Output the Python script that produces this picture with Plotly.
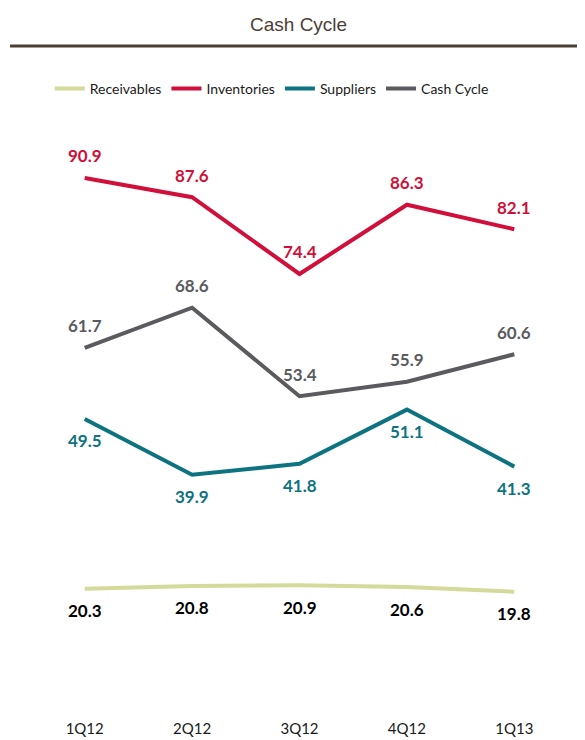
import plotly.graph_objects as go

quarters = ["1Q12", "2Q12", "3Q12", "4Q12", "1Q13"]
receivables = [20.3, 20.8, 20.9, 20.6, 19.8]
inventories = [90.9, 87.6, 74.4, 86.3, 82.1]
suppliers = [49.5, 39.9, 41.8, 51.1, 41.3]
cash_cycle = [61.7, 68.6, 53.4, 55.9, 60.6]

# name, values, line colour, label colour, label side (+1 above / -1 below)
series = [
    ("Receivables", receivables, "#D4DA9A", "#000000", -1),
    ("Inventories", inventories, "#D0103A", "#D0103A", 1),
    ("Suppliers", suppliers, "#0E7380", "#0E7380", -1),
    ("Cash Cycle", cash_cycle, "#5A5A5F", "#5A5A5F", 1),
]

# the page body has an 8px margin, so the figure is drawn 8px in from the corner
OFF = 8
FW, FH = 585 - OFF, 740 - OFF
# plot area in window pixels: x 31..568.5, y 125..707
L, W, T, H = 31 - OFF, 537.5, 125 - OFF, 582

def px_x(p):
    return (p - OFF - L) / W

def px_y(p):
    return (T + H - (p - OFF)) / H

fig = go.Figure()
annotations = []
for name, vals, col, lab_col, side in series:
    fig.add_trace(go.Scatter(
        x=quarters, y=vals, mode="lines", name=name,
        line=dict(color=col, width=4),
        hoverinfo="skip",
    ))
    for q, v in zip(quarters, vals):
        annotations.append(dict(
            x=q, y=v, xref="x", yref="y", text=f"{v:.1f}",
            showarrow=False, yshift=22 * side,
            font=dict(family="Lato", size=17, color=lab_col, weight="bold"),
        ))

annotations.append(dict(
    x=px_x(299), y=px_y(25), xref="paper", yref="paper", text="Cash Cycle",
    showarrow=False, yanchor="middle",
    font=dict(family="Liberation Sans", size=19, color="#4D4036"),
))

fig.update_layout(
    width=FW, height=FH,
    margin=dict(l=L, r=FW - L - W, t=T, b=FH - T - H, autoexpand=False),
    paper_bgcolor="white", plot_bgcolor="white",
    showlegend=True,
    legend=dict(
        orientation="h", x=px_x(272), xanchor="center",
        y=px_y(89), yanchor="middle",
        font=dict(family="Lato", size=14, color="#1A1A1A"),
        itemwidth=30, tracegroupgap=0,
    ),
    xaxis=dict(
        range=[-0.5, 4.5], showgrid=False, zeroline=False, showline=False,
        ticks="outside", ticklen=8, tickcolor="rgba(0,0,0,0)",
        tickfont=dict(family="Lato", size=15, color="#1A1A1A"),
    ),
    yaxis=dict(range=[0, 100], visible=False),
    annotations=annotations,
    shapes=[dict(
        type="line", xref="paper", yref="paper",
        x0=px_x(10), x1=px_x(585),
        y0=px_y(46), y1=px_y(46),
        line=dict(color="#4A3F35", width=3),
    )],
)

fig.write_html("out.html")
